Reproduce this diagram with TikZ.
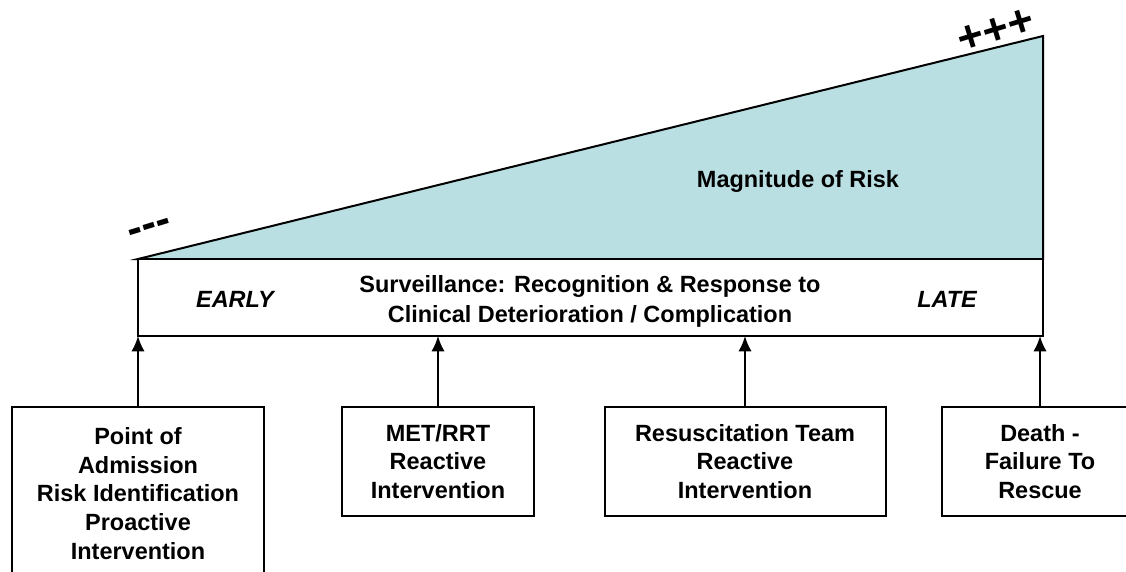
\documentclass[tikz,border=0pt]{standalone}
\usepackage{fontspec}
\setmainfont{Liberation Sans}
\usepackage{tikz}
\usetikzlibrary{arrows.meta}
\definecolor{riskblue}{RGB}{185,223,227}

\begin{document}
\begin{tikzpicture}[x=0.75pt, y=-0.75pt, >={Latex[length=11.5pt, width=10pt]},
     font=\bfseries\fontsize{17.6}{21.5}\selectfont,
     every node/.style = {outer sep = 0pt, inner sep=0pt, align=center},
     stage/.style = {draw=black, fill=white, line width=1.5pt,
     minimum height=81.75pt},
     sign/.style = {rotate=17, font=\bfseries\fontsize{33}{33}\selectfont}]
        \useasboundingbox (0,0) rectangle (1126,571);
        % risk wedge
        \coordinate (peak) at (1043,36);
        \draw [line width=1.5pt, fill=riskblue, line join=miter]
            (138,259) -- (peak) -- (1043,259) -- cycle;
        \node at (798,181) (risk) {Magnitude of Risk};
        \node [sign] at (150,231) (low) {-\kern0pt-\kern0pt-};
        \node [sign] at (996,31) (high) {+\kern0pt+\kern0pt+};
        % surveillance band
        \node [draw=black, fill=white, line width=1.5pt,
                minimum width=678.75pt, minimum height=57.75pt]
            at (590.5,297.5) (band) {};
        \node [font=\bfseries\fontsize{17.6}{22.5}\selectfont]
            at (590,301) (watch) {Surveillance: Recognition \& Response to\\
                Clinical Deterioration / Complication};
        \node [font=\bfseries\itshape\fontsize{17.6}{21.5}\selectfont]
            at (235,299) (early) {EARLY};
        \node [font=\bfseries\itshape\fontsize{17.6}{21.5}\selectfont]
            at (947,299) (late) {LATE};
        % intervention points
        \node [stage, anchor=north, minimum width=189pt, minimum height=129.75pt]
            at (138,407) (admit) {Point of\\ Admission\\ Risk Identification\\
                Proactive\\ Intervention};
        \node [stage, anchor=north, minimum width=144pt]
            at (438,407) (met) {MET/RRT\\ Reactive\\ Intervention};
        \node [stage, anchor=north, minimum width=210.75pt]
            at (745,407) (resus) {Resuscitation Team\\ Reactive\\ Intervention};
        \node [stage, anchor=north, minimum width=147pt]
            at (1040,407) (death) {Death -\\ Failure To\\ Rescue};
        \foreach \s in {admit, met, resus, death}
            \draw [->, line width=1.5pt] (\s.north) -- (\s.north |- band.south);
\end{tikzpicture}
\end{document}
